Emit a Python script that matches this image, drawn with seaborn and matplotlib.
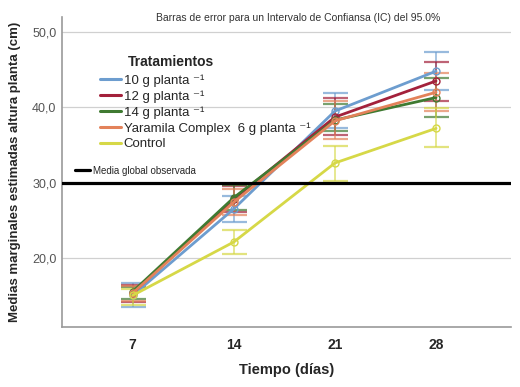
import pandas as pd
import matplotlib
matplotlib.use("Agg")
import matplotlib.pyplot as plt
import seaborn as sns
from matplotlib.lines import Line2D
from matplotlib.ticker import FuncFormatter

# Data
dias = [7, 14, 21, 28]
tratamientos = ["10 g planta ⁻¹", "12 g planta ⁻¹", "14 g planta ⁻¹",
                "Yaramila Complex  6 g planta ⁻¹", "Control"]
medias = {
    tratamientos[0]: [15.0, 26.5, 39.5, 44.8],
    tratamientos[1]: [15.3, 27.8, 38.7, 43.5],
    tratamientos[2]: [15.5, 28.0, 38.3, 41.3],
    tratamientos[3]: [15.3, 27.4, 38.2, 42.0],
    tratamientos[4]: [15.0, 22.1, 32.6, 37.2],
}
ic_inf = {
    tratamientos[0]: [13.4, 24.8, 37.3, 42.3],
    tratamientos[1]: [14.1, 26.1, 36.3, 40.9],
    tratamientos[2]: [14.5, 26.4, 36.9, 38.7],
    tratamientos[3]: [14.3, 25.7, 35.8, 39.5],
    tratamientos[4]: [13.7, 20.5, 30.2, 34.7],
}
ic_sup = {
    tratamientos[0]: [16.7, 28.2, 41.9, 47.4],
    tratamientos[1]: [16.4, 29.5, 41.2, 46.0],
    tratamientos[2]: [16.1, 29.7, 40.4, 43.9],
    tratamientos[3]: [16.3, 29.1, 40.8, 44.5],
    tratamientos[4]: [15.9, 23.7, 34.8, 39.9],
}
media_global = 30.0
colores = ["#6d9dcf", "#a3213b", "#3f7a31", "#e3825a", "#d6d847"]

rows = []
for t in tratamientos:
    for d, m in zip(dias, medias[t]):
        rows.append({"dia": d, "media": m, "trat": t})
df = pd.DataFrame(rows)

sns.set_style("white")
plt.rcParams["font.family"] = ["Liberation Sans", "DejaVu Sans"]

fig = plt.figure(figsize=(5.2, 3.87), dpi=100)
ax = fig.add_axes([0.119, 0.155, 0.864, 0.801])

# mean lines
sns.lineplot(data=df, x="dia", y="media", hue="trat", hue_order=tratamientos,
             palette=colores, marker="o", markersize=5, linewidth=2.0,
             markerfacecolor="none", ax=ax, legend=False, zorder=3)
for line in ax.get_lines():
    line.set_markeredgecolor(line.get_color())
    line.set_markeredgewidth(1.0)

# error bars (95% CI)
for t, c in zip(tratamientos, colores):
    low = [m - l for m, l in zip(medias[t], ic_inf[t])]
    up = [u - m for m, u in zip(medias[t], ic_sup[t])]
    ax.errorbar(dias, medias[t], yerr=[low, up], fmt="none", ecolor=c,
                elinewidth=1.2, capsize=9, capthick=1.6, alpha=0.7, zorder=2)

ax.axhline(media_global, color="black", linewidth=2.3, zorder=4)

ax.set_xlim(2.1, 33.2)
ax.set_ylim(10.8, 52)
ax.set_xticks(dias)
ax.set_xticklabels([str(d) for d in dias], fontsize=10, fontweight="bold")
ax.set_yticks([20, 30, 40, 50])
ax.yaxis.set_major_formatter(FuncFormatter(lambda v, p: f"{v:.1f}".replace(".", ",")))
ax.tick_params(axis="y", labelsize=9, labelcolor="#555555", length=0, pad=4)
ax.tick_params(axis="x", length=0, pad=8)
ax.yaxis.grid(True, color="#d0d0d0", linewidth=0.9)
ax.set_axisbelow(True)
for s in ["top", "right"]:
    ax.spines[s].set_visible(False)
for s in ["left", "bottom"]:
    ax.spines[s].set_color("#9a9a9a")
    ax.spines[s].set_linewidth(1.2)

ax.set_xlabel("Tiempo (días)", fontsize=10.5, fontweight="bold", labelpad=8)
ax.set_ylabel("Medias marginales estimadas altura planta (cm)", fontsize=9.5,
              fontweight="bold", labelpad=8)
fig.text(0.573, 0.953, "Barras de error para un Intervalo de Confiansa (IC) del 95.0%",
         fontsize=7.5, color="#333333", ha="center", va="center")

ax.text(0.147, 0.855, "Tratamientos", transform=ax.transAxes, fontsize=10,
        fontweight="bold", va="center", ha="left")
handles = [Line2D([0], [0], color=c, linewidth=2.2) for c in colores]
leg = ax.legend(handles, tratamientos, loc="upper left",
                bbox_to_anchor=(0.085, 0.815), frameon=False, fontsize=9.5,
                handlelength=1.6, handletextpad=0.2, labelspacing=0.26,
                borderaxespad=0, borderpad=0)
ax.add_artist(leg)

leg2 = ax.legend([Line2D([0], [0], color="black", linewidth=2.3)],
                 ["Media global observada"], loc="upper left",
                 bbox_to_anchor=(0.029, 0.52), frameon=False, fontsize=7,
                 handlelength=1.6, handletextpad=0.3, borderaxespad=0, borderpad=0)

fig.savefig("out.png", dpi=100)
